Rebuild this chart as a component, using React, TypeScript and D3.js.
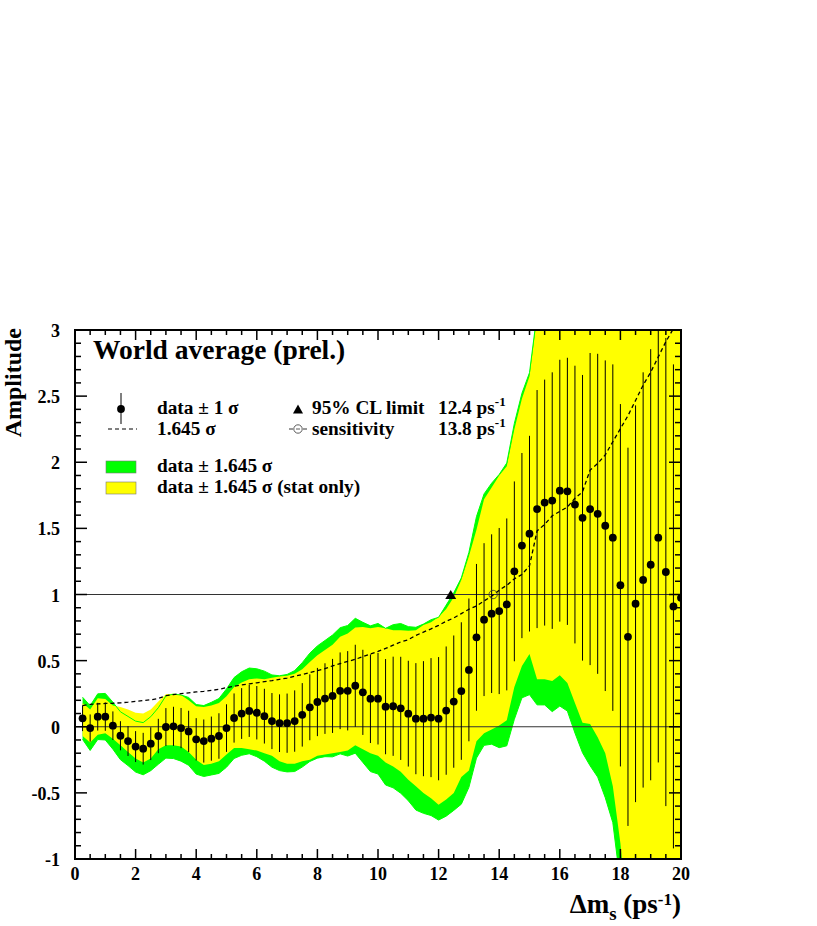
import * as d3 from 'd3';

// Delta m_s grid (ps^-1)
const dms = [
  0.25, 0.5, 0.75, 1, 1.25, 1.5, 1.75, 2, 2.25, 2.5,
  2.75, 3, 3.25, 3.5, 3.75, 4, 4.25, 4.5, 4.75, 5,
  5.25, 5.5, 5.75, 6, 6.25, 6.5, 6.75, 7, 7.25, 7.5,
  7.75, 8, 8.25, 8.5, 8.75, 9, 9.25, 9.5, 9.75, 10,
  10.25, 10.5, 10.75, 11, 11.25, 11.5, 11.75, 12, 12.25, 12.5,
  12.75, 13, 13.25, 13.5, 13.75, 14, 14.25, 14.5, 14.75, 15,
  15.25, 15.5, 15.75, 16, 16.25, 16.5, 16.75, 17, 17.25, 17.5,
  17.75, 18, 18.25, 18.5, 18.75, 19, 19.25, 19.5, 19.75, 20,
];

// measured amplitude
const amp = [
  0.064, -0.01, 0.076, 0.076, 0.008, -0.068, -0.108, -0.15, -0.166, -0.128,
  -0.07, -0.002, 0.003, -0.01, -0.035, -0.095, -0.108, -0.09, -0.07, -0.01,
  0.066, 0.1, 0.12, 0.106, 0.08, 0.043, 0.027, 0.027, 0.043, 0.09,
  0.147, 0.187, 0.213, 0.233, 0.272, 0.272, 0.31, 0.26, 0.212, 0.212,
  0.152, 0.155, 0.139, 0.099, 0.061, 0.061, 0.069, 0.061, 0.122, 0.19,
  0.27, 0.43, 0.676, 0.81, 0.855, 0.875, 0.925, 1.175, 1.37, 1.46,
  1.646, 1.695, 1.71, 1.785, 1.78, 1.68, 1.58, 1.646, 1.61, 1.52,
  1.43, 1.07, 0.68, 0.93, 1.11, 1.225, 1.43, 1.17, 0.91, 0.975,
];

// total 1 sigma error
const sigma = [
  0.097, 0.103, 0.105, 0.107, 0.108, 0.11, 0.113, 0.117, 0.12, 0.124,
  0.13, 0.143, 0.148, 0.152, 0.156, 0.16, 0.163, 0.167, 0.172, 0.18,
  0.186, 0.192, 0.197, 0.202, 0.207, 0.212, 0.218, 0.224, 0.232, 0.24,
  0.249, 0.258, 0.267, 0.28, 0.29, 0.3, 0.31, 0.322, 0.335, 0.346,
  0.36, 0.375, 0.39, 0.4, 0.42, 0.435, 0.45, 0.466, 0.485, 0.5,
  0.52, 0.54, 0.555, 0.578, 0.6, 0.628, 0.65, 0.68, 0.7, 0.74,
  0.9, 0.93, 0.97, 0.99, 1.01, 1.05, 1.08, 1.18, 1.21, 1.25,
  1.31, 1.37, 1.43, 1.5, 1.57, 1.63, 1.7, 1.77, 1.83, 1.89,
];

// yellow band (data +- 1.645 sigma, stat only): upper / lower edge
const statHi = [
  0.18, 0.13, 0.215, 0.21, 0.16, 0.15, 0.13, 0.105, 0.1, 0.13,
  0.19, 0.245, 0.25, 0.24, 0.2, 0.155, 0.15, 0.16, 0.18, 0.23,
  0.3, 0.335, 0.36, 0.365, 0.36, 0.37, 0.38, 0.385, 0.4, 0.435,
  0.49, 0.54, 0.58, 0.62, 0.68, 0.705, 0.75, 0.755, 0.745, 0.755,
  0.745, 0.73, 0.73, 0.725, 0.73, 0.77, 0.79, 0.83, 0.89, 0.98,
  1.11, 1.29, 1.49, 1.72, 1.81, 1.9, 1.97, 2.25, 2.48, 2.65,
  3.1, 3.2, 3.25, 3.3, 3.3, 3.3, 3.25, 3.5, 3.5, 3.5,
  3.5, 3.2, 3.05, 3.3, 3.6, 3.8, 4.1, 4.0, 3.8, 4.0,
];
const statLo = [
  -0.07, -0.12, -0.06, -0.05, -0.09, -0.14, -0.19, -0.24, -0.27, -0.24,
  -0.17, -0.14, -0.14, -0.15, -0.19, -0.25, -0.29, -0.28, -0.26, -0.21,
  -0.16, -0.16, -0.17, -0.18, -0.2, -0.22, -0.26, -0.28, -0.28, -0.26,
  -0.25, -0.22, -0.21, -0.2, -0.19, -0.18, -0.14, -0.17, -0.2, -0.22,
  -0.27, -0.3, -0.34, -0.4, -0.45, -0.5, -0.54, -0.59, -0.55, -0.5,
  -0.38, -0.33, -0.11, -0.05, -0.02, 0.01, 0.05, 0.3, 0.46, 0.55,
  0.36, 0.36, 0.345, 0.39, 0.33, 0.18, 0.03, 0.02, -0.08, -0.2,
  -0.45, -0.88, -1.5, -1.4, -1.3, -1.2, -1.3, -1.6, -1.9, -1.8,
];

const xTicks = [0, 2, 4, 6, 8, 10, 12, 14, 16, 18, 20];
const yTicks = [-1, -0.5, 0, 0.5, 1, 1.5, 2, 2.5, 3];
const clLimit = 12.4;
const sensitivity = 13.8;
const K = 1.645;

const W = 817;
const H = 926;
const margin = { top: 330, right: 136, bottom: 67, left: 75 };
const FONT = "'Liberation Serif', 'Times New Roman', serif";

export default function App() {
  const x = d3.scaleLinear().domain([0, 20]).range([margin.left, W - margin.right]);
  const y = d3.scaleLinear().domain([-1, 3]).range([H - margin.bottom, margin.top]);
  const [x0, x1] = x.range();
  const [yb, yt] = y.range();

  const pts = dms.map((d, i) => ({ d, a: amp[i], s: sigma[i], hi: statHi[i], lo: statLo[i] }));
  type P = (typeof pts)[number];

  const greenArea = d3.area<P>().x((p) => x(p.d)).y0((p) => y(p.a - K * p.s)).y1((p) => y(p.a + K * p.s));
  const yellowArea = d3.area<P>().x((p) => x(p.d)).y0((p) => y(p.lo)).y1((p) => y(p.hi));
  const greenUp = d3.line<P>().x((p) => x(p.d)).y((p) => y(p.a + K * p.s));
  const greenDn = d3.line<P>().x((p) => x(p.d)).y((p) => y(p.a - K * p.s));
  const dashed = d3.line<P>().x((p) => x(p.d)).y((p) => y(K * p.s));

  const xMinor = d3.range(0, 20.001, 0.5);
  const yMinor = d3.range(-1, 3.0001, 0.1);

  const tri = (cx: number, cy: number, w: number, h: number) =>
    `M${cx - w / 2},${cy + h / 2}L${cx + w / 2},${cy + h / 2}L${cx},${cy - h / 2}Z`;

  return (
    <svg width={W} height={H} style={{ position: 'absolute', left: 0, top: 0, background: '#fff' }}
      fontFamily={FONT} fontWeight="bold">
      <defs>
        <clipPath id="plot">
          <rect x={x0} y={yt} width={x1 - x0} height={yb - yt} />
        </clipPath>
      </defs>

      <g clipPath="url(#plot)">
        <path d={greenArea(pts) || ''} fill="#00ff00" />
        <path d={yellowArea(pts) || ''} fill="#ffff00" />
        <path d={greenUp(pts) || ''} fill="none" stroke="#00ff00" strokeWidth={1} />
        <path d={greenDn(pts) || ''} fill="none" stroke="#00ff00" strokeWidth={1} />

        <line x1={x0} x2={x1} y1={y(0)} y2={y(0)} stroke="#333" strokeWidth={1} />
        <line x1={x0} x2={x1} y1={y(1)} y2={y(1)} stroke="#333" strokeWidth={1} />

        {pts.map((p, i) => (
          <line key={'e' + i} x1={x(p.d)} x2={x(p.d)} y1={y(p.a - p.s)} y2={y(p.a + p.s)}
            stroke="#000" strokeWidth={1} />
        ))}
        <path d={dashed(pts) || ''} fill="none" stroke="#000" strokeWidth={1.3} strokeDasharray="4,3" />
        {pts.map((p, i) => (
          <circle key={'c' + i} cx={x(p.d)} cy={y(p.a)} r={3.9} fill="#000" />
        ))}
        <path d={tri(x(clLimit), y(1), 11, 9)} fill="#000" />
        <circle cx={x(sensitivity)} cy={y(1)} r={4.2} fill="none" stroke="#333" strokeWidth={0.8} />
      </g>

      {/* frame */}
      <rect x={x0} y={yt} width={x1 - x0} height={yb - yt} fill="none" stroke="#000" strokeWidth={2} />

      {/* x ticks */}
      {xMinor.map((v, i) => {
        const major = xTicks.includes(Math.round(v * 100) / 100);
        const len = major ? 10 : 5;
        return (
          <g key={'xt' + i} stroke="#000" strokeWidth={1.5}>
            <line x1={x(v)} x2={x(v)} y1={yb} y2={yb - len} />
            <line x1={x(v)} x2={x(v)} y1={yt} y2={yt + len} />
          </g>
        );
      })}
      {/* y ticks */}
      {yMinor.map((v, i) => {
        const r = Math.round(v * 10) / 10;
        const major = yTicks.includes(r);
        const len = major ? 12 : 6;
        return (
          <g key={'yt' + i} stroke="#000" strokeWidth={1.5}>
            <line x1={x0} x2={x0 + len} y1={y(r)} y2={y(r)} />
            <line x1={x1} x2={x1 - len} y1={y(r)} y2={y(r)} />
          </g>
        );
      })}

      {xTicks.map((v) => (
        <text key={'xl' + v} x={x(v)} y={yb + 21} textAnchor="middle" fontSize={18}>{v}</text>
      ))}
      {yTicks.map((v) => (
        <text key={'yl' + v} x={x0 - 15} y={y(v) + 7} textAnchor="end" fontSize={18}>{v}</text>
      ))}

      <text transform={`translate(21,${yt - 2}) rotate(-90)`} textAnchor="end" fontSize={24}>Amplitude</text>
      <text x={x1} y={913} textAnchor="end" fontSize={27}>
        Δm<tspan dy={7} fontSize={19}>s</tspan>
        <tspan dy={-7}> (ps</tspan>
        <tspan dy={-8} fontSize={17}>-1</tspan>
        <tspan dy={8}>)</tspan>
      </text>

      {/* title and legend */}
      <text x={93} y={359} fontSize={27.5}>World average (prel.)</text>

      <line x1={121} x2={121} y1={393} y2={424} stroke="#000" strokeWidth={1} />
      <circle cx={121} cy={409} r={3.9} fill="#000" />
      <text x={157} y={414} fontSize={19.3}>data ± 1 σ</text>

      <line x1={108} x2={137} y1={429} y2={429} stroke="#000" strokeWidth={1} strokeDasharray="4,3" />
      <text x={157} y={435} fontSize={19.3}>1.645 σ</text>

      <path d={tri(298, 409, 10, 9)} fill="#000" />
      <text x={312} y={414} fontSize={19.3}>95% CL limit</text>
      <text x={438} y={414} fontSize={19.3}>12.4 ps<tspan dy={-8} fontSize={13}>-1</tspan></text>

      <line x1={289} x2={293} y1={429} y2={429} stroke="#000" strokeWidth={0.8} />
      <line x1={303} x2={307} y1={429} y2={429} stroke="#000" strokeWidth={0.8} />
      <circle cx={298} cy={429} r={4.2} fill="none" stroke="#333" strokeWidth={0.8} />
      <line x1={296} x2={300} y1={429} y2={429} stroke="#333" strokeWidth={0.8} />
      <text x={312} y={435} fontSize={19.3}>sensitivity</text>
      <text x={438} y={435} fontSize={19.3}>13.8 ps<tspan dy={-8} fontSize={13}>-1</tspan></text>

      <rect x={106} y={461} width={30} height={12} fill="#00ff00" stroke="#777" strokeWidth={0.6} />
      <text x={157} y={472} fontSize={19.3}>data ± 1.645 σ</text>
      <rect x={106} y={482} width={30} height={12} fill="#ffff00" stroke="#777" strokeWidth={0.6} />
      <text x={157} y={493} fontSize={19.3}>data ± 1.645 σ (stat only)</text>
    </svg>
  );
}
